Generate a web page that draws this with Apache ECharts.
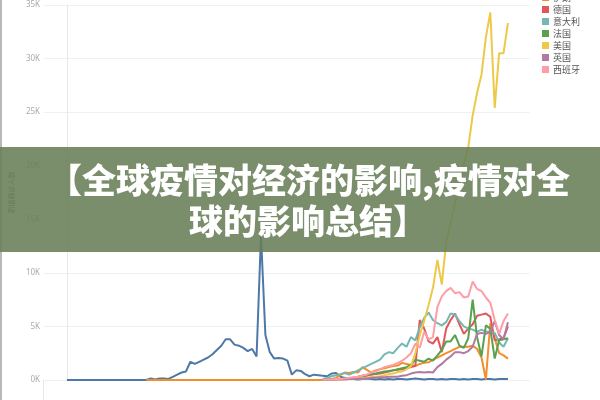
<!DOCTYPE html>
<html>
<head>
<meta charset="utf-8">
<script src="https://cdn.jsdelivr.net/npm/echarts@6/dist/echarts.min.js"></script>
<style>
html,body{margin:0;padding:0;background:#fff;}
#chart{width:600px;height:400px;}
</style>
</head>
<body>
<div id="chart"></div>
<script>
// Day index (x axis, hidden)
const days = Array.from({length: 101}, (_, i) => i);
// Series names (legend order)
const countries = ['中国', '伊朗', '德国', '意大利', '法国', '美国', '英国', '西班牙'];
const colors = ['#4e79a7', '#f28e2b', '#e15759', '#76b7b2', '#59a14f', '#edc948', '#b07aa1', '#ff9da7'];
// Y axis ticks (thousands)
const yTicks = [0, 5, 10, 15, 20, 25, 30, 35];
const bannerLines = ['【全球疫情对经济的影响,疫情对全', '球的影响总结】'];

// Daily new cases, in thousands
const china = [0,0,0,0,0,0,0,0,0,0,0,0,0,0,0,0,0,0,0,
  0.15,0.05,0.15,0.15,0.1,0.3,0.5,0.7,0.8,1.7,1.5,1.7,1.9,2.1,2.4,2.8,3.2,3.8,3.8,3.3,3.2,3.0,2.7,2.9,2.2,
  13.5,4.2,2.6,2.0,2.05,2.0,1.8,0.5,0.9,0.85,0.55,0.35,0.5,0.45,0.4,0.35,0.6,0.65,0.3,0.2,0.15,
  0.1,0.05,0.1,0.15,0.1,0.05,0.1,0.05,0.1,0.05,0.1,0.1,0.05,0.1,0.15,0.1,0.05,0.1,0.1,0.05,0.1,0.05,0.1,0.1,0.05,0.1,0.05,0.1,0.1,0.05,0.1,0.1,0.05,0.1,0.1,0.1];
const iran = [null,null,null,null,null,null,null,null,null,null,null,null,null,null,null,null,null,null,
  0,0,0,0,0,0,0,0,0,0,0,0,0,0,0,0,0,0,0,0,0,0,0,0,0,0,0,0,0,0,0,0,0,0,0,0,0,0,0,0,0,0,
  0.1,0.2,
  0.45,0.7,0.65,0.75,0.7,1.2,0.95,0.7,0.9,1.0,1.1,1.2,1.3,1.35,1.6,1.5,1.4,1.3,1.5,1.6,1.65,1.9,2.1,2.3,2.5,2.7,2.9,3.1,3.1,3.1,3.2,2.9,2.1,0.05,5.3,3.9,2.5,2.3,2.0];
const N58 = [null,null,null,null,null,null,null,null,null,null,null,null,null,null,null,null,null,null,null,null,null,null,null,null,null,null,null,null,null,null,null,null,null,null,null,null,null,null,null,null,null,null,null,null,null,null,null,null,null,null,null,null,null,null,null,null,null,null];
const germany = N58.concat([0.05,0.05,0.05,0.1,0.1,0.15,0.15,0.2,0.25,0.35,0.4,0.5,0.55,0.6,0.7,0.8,0.9,0.95,1.0,1.1,1.2,1.3,
  5.6,4.8,3.6,3.4,4.0,2.6,4.8,5.6,6.2,5.2,4.3,4.8,5.2,6.0,6.1,6.2,5.9,3.7,3.8,3.9,5.0]);
const italy = N58.concat([0.1,0.2,0.35,0.45,0.55,0.65,0.5,0.7,0.9,1.1,1.3,1.5,1.7,1.9,2.4,2.6,2.5,3.0,3.4,3.1,4.0,3.7,
  4.9,5.8,6.3,5.6,5.3,5.1,5.4,6.2,6.1,5.5,5.0,4.8,4.7,4.5,4.7,4.5,4.5,4.4,3.5,3.1,3.9]);
const france = N58.concat([0,0.05,0.05,0.1,0.1,0.15,0.15,0.2,0.3,0.4,0.5,0.55,0.6,0.7,0.8,0.85,0.9,1.0,1.1,1.2,1.4,1.9,
  1.8,1.7,2.0,1.8,2.3,2.8,3.6,3.6,4.2,3.2,3.0,3.9,7.5,4.0,2.2,5.1,4.8,2.0,3.7,3.8,3.9]);
const usa = N58.concat([0,0,0.05,0.05,0.05,0.1,0.1,0.1,0.15,0.15,0.2,0.25,0.3,0.35,0.45,0.55,0.6,0.75,0.8,1.0,1.3,2.5,
  4.2,5.5,7.0,8.6,11.2,8.9,12.9,14.6,16.5,18.1,20.2,21.7,24.7,26.8,28.5,32.0,34.3,25.4,30.5,30.5,33.3]);
const uk = N58.concat([0,0,0.05,0.05,0.05,0.05,0.1,0.1,0.1,0.15,0.15,0.2,0.2,0.25,0.25,0.3,0.3,0.3,0.4,0.45,0.6,0.7,
  0.75,0.7,0.75,0.7,1.2,1.5,1.9,2.2,2.6,2.6,2.5,2.7,3.1,4.3,4.4,4.3,4.5,5.5,4.2,3.8,5.4]);
const spain = N58.concat([0,0.05,0.05,0.1,0.1,0.15,0.2,0.25,0.3,0.4,0.5,0.7,0.8,1.0,1.2,1.3,1.4,1.6,1.8,2.1,2.5,3.4,
  3.0,4.5,3.8,4.0,6.8,7.8,8.3,8.6,8.1,8.2,7.7,7.8,9.2,8.5,8.3,7.7,7.2,5.6,4.3,5.5,6.2]);

const seriesData = [china, iran, germany, italy, france, usa, uk, spain];

const chart = echarts.init(document.getElementById('chart'));
const FONT = '"Noto Sans", "Noto Sans CJK SC", sans-serif';

chart.setOption({
  animation: false,
  backgroundColor: '#ffffff',
  color: colors,
  textStyle: {fontFamily: FONT},
  grid: {left: 43, right: 70, top: 5, bottom: 20, containLabel: false},
  legend: {
    orient: 'vertical',
    left: 537,
    top: -24,
    icon: 'rect',
    itemWidth: 7,
    itemHeight: 7,
    itemGap: 3,
    data: countries,
    textStyle: {fontSize: 9, color: '#555', fontFamily: '"Noto Sans CJK SC", sans-serif', padding: [0, 0, 0, -1]}
  },
  xAxis: {
    type: 'value',
    min: -5.2,
    max: 105,
    show: false
  },
  yAxis: {
    type: 'value',
    min: 0,
    max: 35,
    interval: 5,
    name: '新增确诊人数',
    nameLocation: 'middle',
    nameGap: 22,
    nameTextStyle: {fontSize: 7, color: '#666', fontFamily: '"Noto Sans CJK SC", sans-serif'},
    axisLine: {show: true, lineStyle: {color: '#e8e8e8', width: 1}},
    axisTick: {show: false},
    axisLabel: {fontSize: 8, color: '#aaa', margin: 4, formatter: v => yTicks.includes(v) ? v + 'K' : ''},
    splitLine: {lineStyle: {color: '#f0f0f0', width: 1}}
  },
  series: countries.map((name, k) => ({
    name: name,
    type: 'line',
    showSymbol: false,
    symbol: 'none',
    lineStyle: {width: 2},
    data: days.map(d => [d, seriesData[k][d]]),
    z: 2
  })),
  graphic: [
    {type: 'rect', left: 0, top: 0, shape: {x: 0, y: 0, width: 2, height: 400}, style: {fill: '#b8b8b8'}, z: 50},
    {type: 'line', shape: {x1: 43.5, y1: 380, x2: 43.5, y2: 400}, style: {stroke: '#e8e8e8', lineWidth: 1}, z: 1},
    {type: 'rect', shape: {x: 0, y: 147, width: 600, height: 105}, style: {fill: 'rgba(104,126,88,0.88)'}, z: 100},
    {type: 'text', x: 309, y: 180, style: {text: bannerLines[0], fill: '#ffffff', font: '900 34px "Noto Sans CJK SC"', align: 'center', verticalAlign: 'middle', textAlign: 'center', textVerticalAlign: 'middle'}, z: 101},
    {type: 'text', x: 308, y: 221, style: {text: bannerLines[1], fill: '#ffffff', font: '900 34px "Noto Sans CJK SC"', align: 'center', verticalAlign: 'middle', textAlign: 'center', textVerticalAlign: 'middle'}, z: 101}
  ]
});
</script>
</body>
</html>
